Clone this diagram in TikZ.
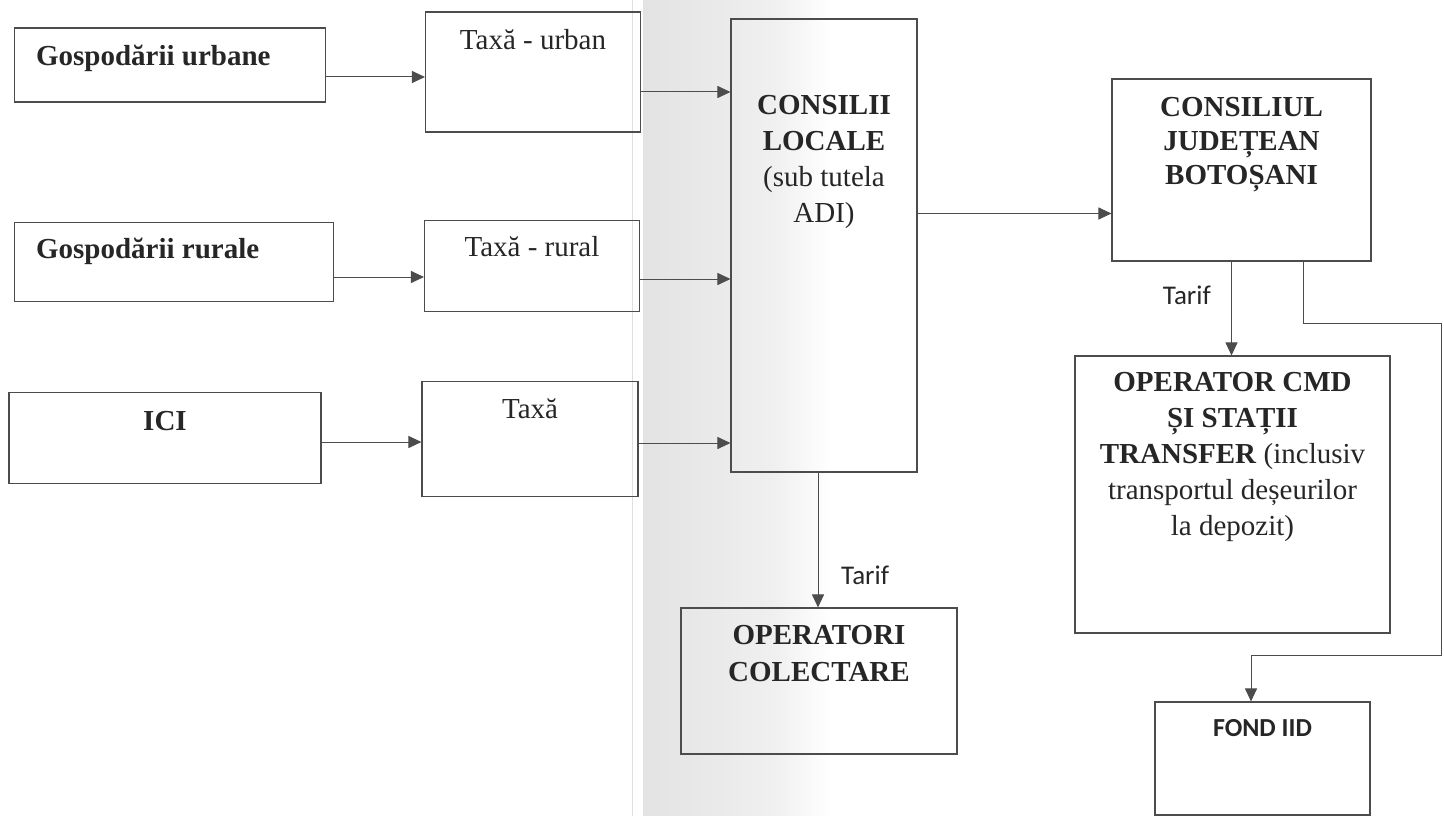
\documentclass[tikz,border=0pt]{standalone}
\usepackage{fontspec}
\setmainfont{Liberation Serif}
\newfontfamily\calibri{Carlito}
\usetikzlibrary{arrows.meta,positioning}

\begin{document}
\begin{tikzpicture}[x=1pt,y=-1pt,>={Triangle[length=13pt,width=12pt]}]
\tikzstyle{every node}=[inner sep=0pt,text=black!85];
\tikzstyle{box}=[draw=black!70,line width=1.1pt,rectangle];
\tikzstyle{txt}=[font=\fontsize{29}{36}\selectfont,align=center];
\tikzstyle{tarif}=[font=\calibri\fontsize{27}{32}\selectfont];
\tikzstyle{link}=[draw=black!70,line width=1pt];
\useasboundingbox (0,0) rectangle (1444,816);
% scan shading
\shade[left color=gray!22,right color=gray!12] (643,0) rectangle (775,816);
\shade[left color=gray!12,right color=white] (775,0) rectangle (830,816);
\draw[gray!25] (632,0) -- (632,816);

% boxes
\node[box,minimum width=311,minimum height=74] (gu) at (170,65) {};
\node[box,minimum width=215,minimum height=120] (tu) at (533,72) {};
\node[box,minimum width=319,minimum height=79] (gr) at (174,262) {};
\node[box,minimum width=215,minimum height=91] (tr) at (532,266) {};
\node[box,minimum width=312,minimum height=91] (ici) at (165,438) {};
\node[box,minimum width=216,minimum height=115] (tx) at (530,439) {};
\node[box,minimum width=186,minimum height=453] (cl) at (824,245.5) {};
\node[box,minimum width=259,minimum height=182] (cj) at (1241.5,170) {};
\node[box,minimum width=315,minimum height=277] (cmd) at (1232.5,494.5) {};
\node[box,minimum width=276,minimum height=146] (oc) at (819,681) {};
\node[box,minimum width=215,minimum height=113] (fond) at (1262.5,758.5) {};

% texts (base = last line)
\node[txt,below right=38pt and 22pt of gu.north west,anchor=base west] {\textbf{Gospodării urbane}};
\node[txt,below right=37pt and 22pt of gr.north west,anchor=base west] {\textbf{Gospodării rurale}};
\node[txt,below=39pt of ici.north,anchor=base] {\textbf{ICI}};
\node[txt,below=38pt of tu.north,anchor=base] {Taxă - urban};
\node[txt,below=37pt of tr.north,anchor=base] {Taxă - rural};
\node[txt,below=38pt of tx.north,anchor=base] {Taxă};
\node[txt,below=204pt of cl.north,anchor=base] {\textbf{CONSILII}\\\textbf{LOCALE}\\(sub tutela\\ADI)};
\node[txt,font=\fontsize{29}{34}\selectfont,below=106pt of cj.north,anchor=base] {\textbf{CONSILIUL}\\\textbf{JUDEȚEAN}\\\textbf{BOTOȘANI}};
\node[txt,below=180.5pt of cmd.north,anchor=base] {\textbf{OPERATOR CMD}\\\textbf{ȘI STAȚII}\\\textbf{TRANSFER} (inclusiv\\transportul deșeurilor\\la depozit)};
\node[txt,font=\fontsize{29}{37.5}\selectfont,below=74.5pt of oc.north,anchor=base] {\textbf{OPERATORI}\\\textbf{COLECTARE}};
\node[tarif,font=\calibri\bfseries\fontsize{26}{30}\selectfont,below=35pt of fond.north,anchor=base] {FOND IID};
\node[tarif,above right=22.5pt and 22pt of oc.north,anchor=base west] {Tarif};
\node[tarif,above left=51pt and 21.5pt of cmd.north,anchor=base east] {Tarif};

% connectors
\draw[link,->] ([yshift=-12pt]gu.east) -- ([yshift=-12pt]gu.east -| tu.west);
\draw[link,->] ([yshift=-20pt]tu.east) -- ([yshift=-20pt]tu.east -| cl.west);
\draw[link,->] ([yshift=-15pt]gr.east) -- ([yshift=-15pt]gr.east -| tr.west);
\draw[link,->] ([yshift=-13pt]tr.east) -- ([yshift=-13pt]tr.east -| cl.west);
\draw[link,->] ([yshift=-4pt]ici.east) -- ([yshift=-4pt]ici.east -| tx.west);
\draw[link,->] ([yshift=-4pt]tx.east) -- ([yshift=-4pt]tx.east -| cl.west);
\draw[link,->] ([yshift=32pt]cl.east) -- ([yshift=32pt]cl.east -| cj.west);
\draw[link,->] ([xshift=-6pt]cl.south) -- ([xshift=-6pt]cl.south |- oc.north);
\draw[link,->] ([xshift=-10pt]cj.south) -- ([xshift=-10pt]cj.south |- cmd.north);
\draw[link,->] ([xshift=62pt]cj.south) -- ++(0,62) -| ++(138,332) -| ([xshift=-11.5pt]fond.north);
\end{tikzpicture}
\end{document}
